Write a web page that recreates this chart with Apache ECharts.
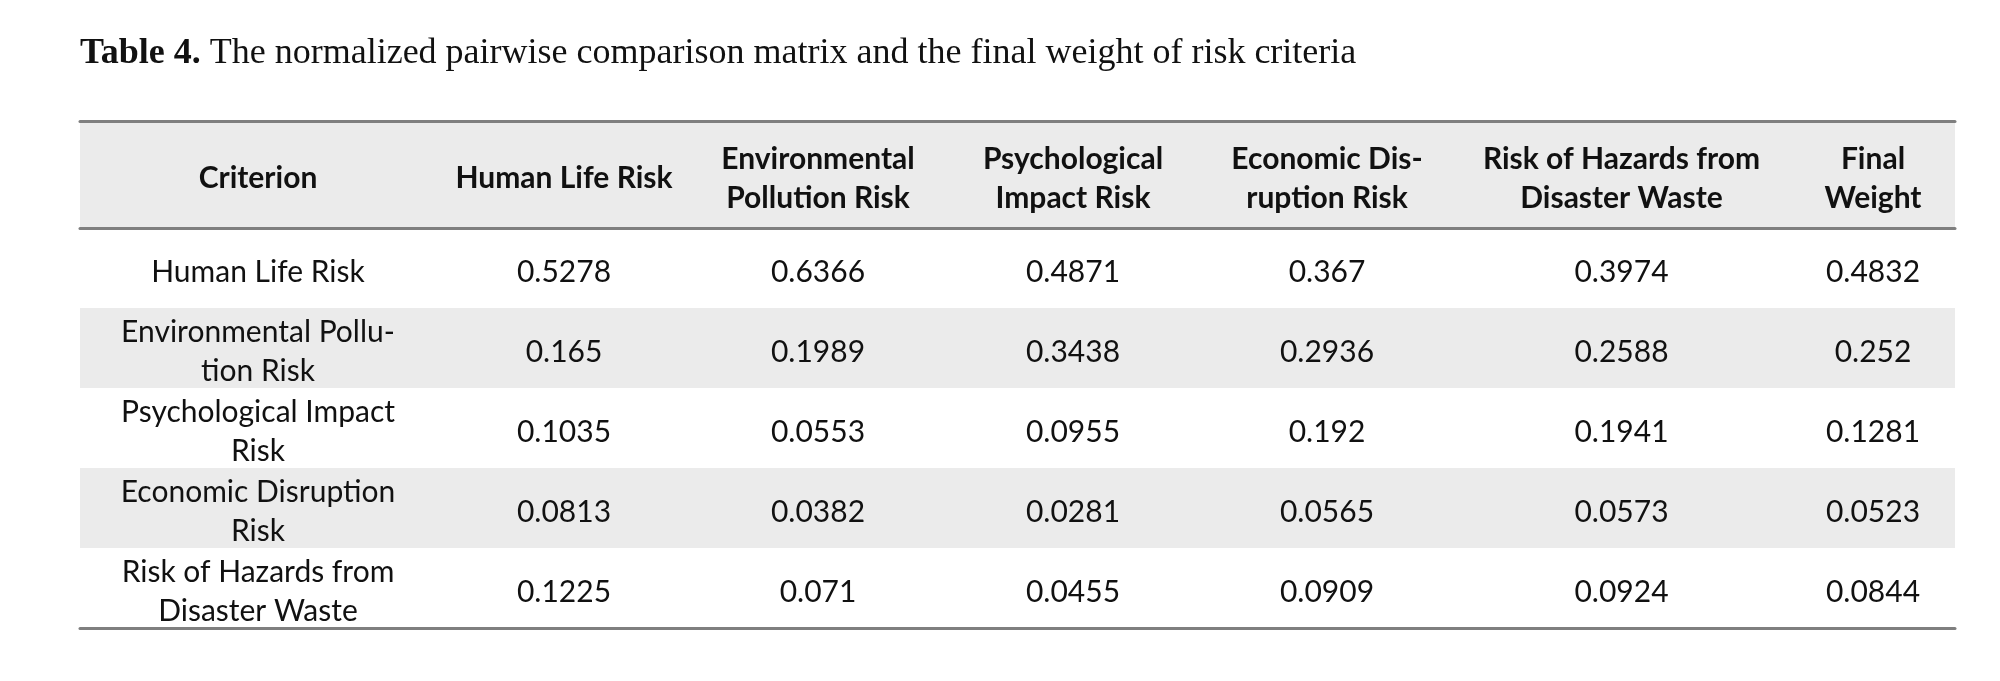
<!DOCTYPE html>
<html>
<head>
<meta charset="utf-8">
<script src="https://cdn.jsdelivr.net/npm/echarts@6/dist/echarts.min.js"></script>
<style>
  html, body { margin: 0; padding: 0; background: #fff; }
  #chart-container { width: 2000px; height: 681px; }
</style>
</head>
<body>
<div id="chart-container"></div>
<script>
// table content
var criteria = [
  'Human Life Risk',
  'Environmental Pollu-\ntion Risk',
  'Psychological Impact\nRisk',
  'Economic Disruption\nRisk',
  'Risk of Hazards from\nDisaster Waste'
];
var columnHeads = [
  'Criterion',
  'Human Life Risk',
  'Environmental\nPollution Risk',
  'Psychological\nImpact Risk',
  'Economic Dis-\nruption Risk',
  'Risk of Hazards from\nDisaster Waste',
  'Final\nWeight'
];
var humanLife      = [0.5278, 0.165, 0.1035, 0.0813, 0.1225];
var envPollution   = [0.6366, 0.1989, 0.0553, 0.0382, 0.071];
var psychImpact    = [0.4871, 0.3438, 0.0955, 0.0281, 0.0455];
var econDisruption = [0.367, 0.2936, 0.192, 0.0565, 0.0909];
var disasterWaste  = [0.3974, 0.2588, 0.1941, 0.0573, 0.0924];
var finalWeight    = [0.4832, 0.252, 0.1281, 0.0523, 0.0844];

// column widths in px (layout only)
var colWidths = [356, 256, 252, 258, 250, 339, 164];
var colEdges = [0];
colWidths.forEach(function (w, i) { colEdges.push(colEdges[i] + w); });
var tableWidth = colEdges[colEdges.length - 1];

var columns = [criteria, humanLife, envPollution, psychImpact, econDisruption, disasterWaste, finalWeight];

var headerData = columnHeads.map(function (h, i) { return [i, 0, h]; });
var bodyData = [];
criteria.forEach(function (c, r) {
  columns.forEach(function (col, ci) {
    bodyData.push([ci, r, String(col[r])]);
  });
});

var FONT = 'Lato, "Open Sans", sans-serif';
var RULE = { show: true, lineStyle: { color: '#7f7f7f', width: 3 } };

function cellRenderer(bold) {
  return function (params, api) {
    var ci = api.value(0);
    var r = api.value(1);
    var left = api.coord([colEdges[ci], r]);
    var right = api.coord([colEdges[ci + 1], r]);
    return {
      type: 'text',
      style: {
        text: api.value(2),
        x: (left[0] + right[0]) / 2,
        y: left[1] + 4,
        align: 'center',
        verticalAlign: 'middle',
        fontFamily: FONT,
        fontSize: 30,
        fontWeight: bold ? 'bold' : 'normal',
        lineHeight: 39,
        fill: '#111'
      }
    };
  };
}

var dom = document.getElementById('chart-container');
var myChart = echarts.init(dom, null, { renderer: 'canvas' });

var option = {
  backgroundColor: '#fff',
  animation: false,
  title: {
    left: 80,
    top: 36,
    padding: 0,
    text: '{b|Table 4.} The normalized pairwise comparison matrix and the final weight of risk criteria',
    textStyle: {
      fontFamily: '"Liberation Serif", serif',
      fontSize: 36,
      fontWeight: 'normal',
      color: '#111',
      rich: {
        b: { fontFamily: '"Liberation Serif", serif', fontSize: 36, fontWeight: 'bold', color: '#111' }
      }
    }
  },
  grid: [
    { left: 80, width: tableWidth, top: 121, height: 107 },
    { left: 80, width: tableWidth, top: 228, height: 400 }
  ],
  xAxis: [
    { gridIndex: 0, type: 'value', min: 0, max: tableWidth, position: 'top',
      axisLine: RULE, axisTick: { show: false }, axisLabel: { show: false }, splitLine: { show: false } },
    { gridIndex: 1, type: 'value', min: 0, max: tableWidth, position: 'top',
      axisLine: RULE, axisTick: { show: false }, axisLabel: { show: false }, splitLine: { show: false } },
    { gridIndex: 1, type: 'value', min: 0, max: tableWidth, position: 'bottom',
      axisLine: RULE, axisTick: { show: false }, axisLabel: { show: false }, splitLine: { show: false } }
  ],
  yAxis: [
    { gridIndex: 0, type: 'category', data: ['head'], inverse: true,
      axisLine: { show: false }, axisTick: { show: false }, axisLabel: { show: false },
      splitArea: { show: true, areaStyle: { color: ['#ebebeb'] } } },
    { gridIndex: 1, type: 'category', data: criteria, inverse: true,
      axisLine: { show: false }, axisTick: { show: false }, axisLabel: { show: false },
      splitArea: { show: true, areaStyle: { color: ['#ffffff', '#ebebeb'] } } }
  ],
  series: [
    {
      type: 'custom',
      name: 'header',
      xAxisIndex: 0,
      yAxisIndex: 0,
      data: headerData,
      renderItem: cellRenderer(true),
      z: 10
    },
    {
      type: 'custom',
      name: 'body',
      xAxisIndex: 1,
      yAxisIndex: 1,
      data: bodyData,
      renderItem: cellRenderer(false),
      z: 10
    }
  ]
};

myChart.setOption(option);
window.addEventListener('resize', myChart.resize);
</script>
</body>
</html>
